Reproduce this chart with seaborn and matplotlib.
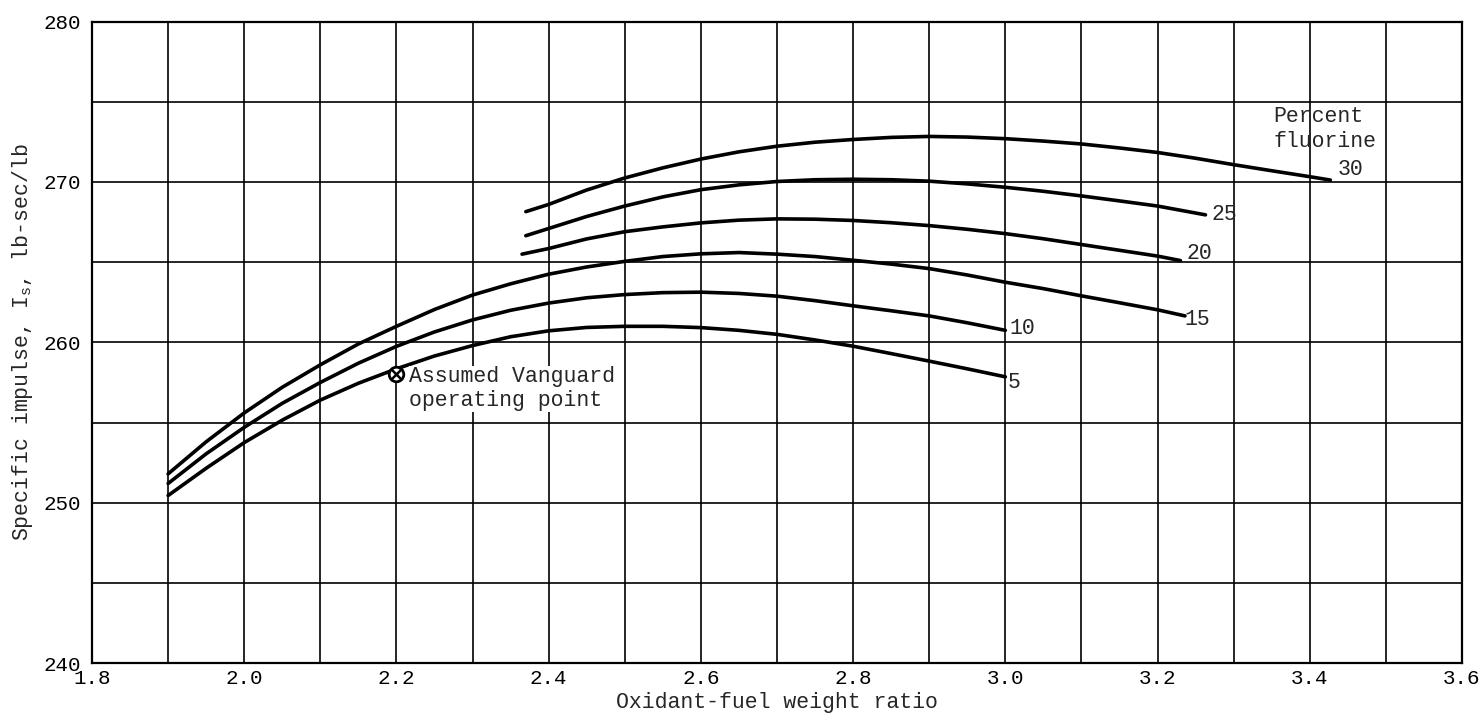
import numpy as np
import pandas as pd
import matplotlib
matplotlib.use("Agg")
import matplotlib.pyplot as plt
import seaborn as sns

# curve data: oxidant-fuel ratio vs specific impulse
x_5 = [1.9, 1.95, 2.0, 2.05, 2.1, 2.15, 2.2, 2.25, 2.3, 2.35, 2.4, 2.45, 2.5, 2.55,
       2.6, 2.65, 2.7, 2.75, 2.8, 2.85, 2.9, 2.95, 3.0]
y_5 = [250.45, 252.15, 253.75, 255.15, 256.4, 257.45, 258.35, 259.15, 259.8, 260.35,
       260.72, 260.93, 261.0, 261.0, 260.92, 260.75, 260.5, 260.15, 259.76, 259.3,
       258.83, 258.35, 257.85]

x_10 = [1.9, 1.95, 2.0, 2.05, 2.1, 2.15, 2.2, 2.25, 2.3, 2.35, 2.4, 2.45, 2.5, 2.55,
        2.6, 2.65, 2.7, 2.75, 2.8, 2.85, 2.9, 2.95, 3.0]
y_10 = [251.2, 253.05, 254.7, 256.2, 257.5, 258.7, 259.75, 260.65, 261.4, 262.0,
        262.45, 262.78, 262.98, 263.1, 263.13, 263.05, 262.88, 262.6, 262.28, 261.97,
        261.65, 261.22, 260.75]

x_15 = [1.9, 1.95, 2.0, 2.05, 2.1, 2.15, 2.2, 2.25, 2.3, 2.35, 2.4, 2.45, 2.5, 2.55,
        2.6, 2.65, 2.7, 2.75, 2.8, 2.85, 2.9, 2.95, 3.0, 3.05, 3.1, 3.15, 3.2, 3.236]
y_15 = [251.8, 253.8, 255.6, 257.2, 258.6, 259.9, 261.0, 262.05, 262.95, 263.65,
        264.25, 264.7, 265.05, 265.35, 265.52, 265.6, 265.5, 265.35, 265.12, 264.88,
        264.6, 264.2, 263.75, 263.35, 262.9, 262.47, 262.03, 261.65]

x_20 = [2.365, 2.4, 2.45, 2.5, 2.55, 2.6, 2.65, 2.7, 2.75, 2.8, 2.85, 2.9, 2.95, 3.0,
        3.05, 3.1, 3.15, 3.2, 3.23]
y_20 = [265.5, 265.85, 266.45, 266.9, 267.2, 267.45, 267.62, 267.7, 267.68, 267.6,
        267.46, 267.28, 267.05, 266.78, 266.46, 266.1, 265.74, 265.38, 265.1]

x_25 = [2.37, 2.4, 2.45, 2.5, 2.55, 2.6, 2.65, 2.7, 2.75, 2.8, 2.85, 2.9, 2.95, 3.0,
        3.05, 3.1, 3.15, 3.2, 3.263]
y_25 = [266.65, 267.1, 267.85, 268.5, 269.07, 269.52, 269.82, 270.03, 270.14, 270.17,
        270.14, 270.05, 269.88, 269.67, 269.42, 269.13, 268.82, 268.5, 267.95]

x_30 = [2.37, 2.4, 2.45, 2.5, 2.55, 2.6, 2.65, 2.7, 2.75, 2.8, 2.85, 2.9, 2.95, 3.0,
        3.05, 3.1, 3.15, 3.2, 3.25, 3.3, 3.35, 3.4, 3.427]
y_30 = [268.15, 268.6, 269.5, 270.25, 270.88, 271.43, 271.88, 272.23, 272.48, 272.65,
        272.78, 272.84, 272.8, 272.7, 272.55, 272.37, 272.12, 271.84, 271.48, 271.08,
        270.7, 270.33, 270.12]

percent_labels = ["5", "10", "15", "20", "25", "30"]
label_x = [3.012, 3.022, 3.252, 3.255, 3.288, 3.453]
label_y = [257.5, 260.87, 261.43, 265.53, 268.0, 270.77]

vanguard_x = [2.2]
vanguard_y = [258.0]

x_ticks = [1.8, 2.0, 2.2, 2.4, 2.6, 2.8, 3.0, 3.2, 3.4, 3.6]
y_ticks = [240, 250, 260, 270, 280]

# long table for seaborn
frames = []
for pct, xs, ys in zip(percent_labels, [x_5, x_10, x_15, x_20, x_25, x_30],
                       [y_5, y_10, y_15, y_20, y_25, y_30]):
    frames.append(pd.DataFrame({"ratio": xs, "impulse": ys, "fluorine": pct}))
curves = pd.concat(frames, ignore_index=True)

sns.set_theme(style="white")
plt.rcParams["font.family"] = ["Liberation Mono", "DejaVu Sans"]
plt.rcParams["mathtext.fontset"] = "custom"
plt.rcParams["mathtext.rm"] = "Liberation Mono"
plt.rcParams["mathtext.it"] = "Liberation Mono"

fig = plt.figure(figsize=(14.79, 7.2), dpi=100)
ax = fig.add_axes([0.0622, 0.079, 0.9263, 0.891])

# graph paper grid
for gx in np.arange(1.9, 3.55, 0.1):
    ax.axvline(gx, color="black", lw=1.2, zorder=1)
for gy in range(245, 280, 5):
    ax.axhline(gy, color="black", lw=1.2, zorder=1)

sns.lineplot(data=curves, x="ratio", y="impulse", hue="fluorine",
             palette={p: "black" for p in percent_labels}, sort=False,
             estimator=None, lw=2.6, legend=False, ax=ax, zorder=3)

fs = 15.5
for lab, lx, ly in zip(percent_labels, label_x, label_y):
    ax.text(lx, ly, lab, fontsize=fs, ha="center", va="center", zorder=4)

ax.text(3.352, 273.3, "Percent\nfluorine", fontsize=fs, ha="left", va="center",
        linespacing=1.25)

# assumed operating point
ax.scatter(vanguard_x, vanguard_y, s=110, facecolors="white", edgecolors="black",
           linewidths=2, zorder=5)
ax.scatter(vanguard_x, vanguard_y, s=55, marker="x", color="black", linewidths=1.8, zorder=6)
ax.text(2.217, 257.1, "Assumed Vanguard\noperating point", fontsize=fs,
        ha="left", va="center", linespacing=1.2,
        bbox=dict(facecolor="white", edgecolor="none", pad=0.5), zorder=4)

ax.set_xlim(1.8, 3.6)
ax.set_ylim(240, 280)
ax.set_xticks(x_ticks)
ax.set_xticklabels([f"{v:.1f}" for v in x_ticks])
ax.set_yticks(y_ticks)
ax.tick_params(axis="both", length=0, labelsize=15, colors="black")
ax.tick_params(axis="y", pad=8)
ax.tick_params(axis="x", pad=4)

ax.set_xlabel("Oxidant-fuel weight ratio", fontsize=fs, labelpad=3)
ax.set_ylabel("Specific impulse, I$_{s}$, lb-sec/lb", fontsize=fs, labelpad=6)

for sp in ax.spines.values():
    sp.set_color("black")
    sp.set_linewidth(1.6)

fig.savefig("out.png", dpi=100, facecolor="white")
